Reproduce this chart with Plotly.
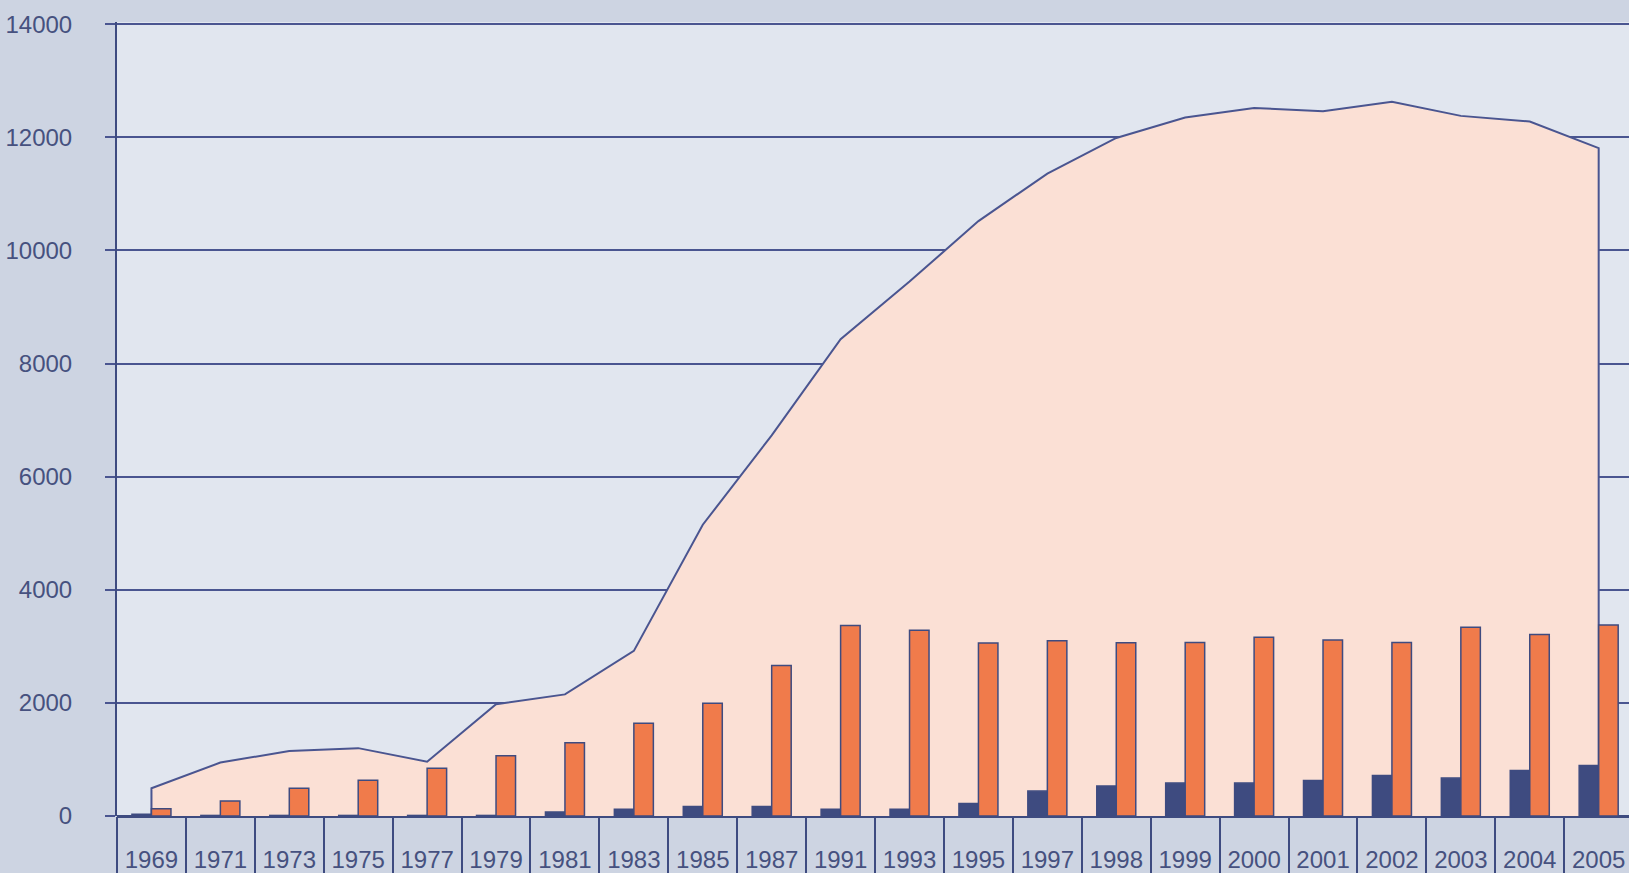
import plotly.graph_objects as go

years = ["1969", "1971", "1973", "1975", "1977", "1979", "1981", "1983", "1985", "1987",
         "1991", "1993", "1995", "1997", "1998", "1999", "2000", "2001", "2002", "2003",
         "2004", "2005"]

area_total = [490, 945, 1150, 1200, 960, 1975, 2150, 2920, 5150, 6730,
              8430, 9450, 10520, 11360, 11990, 12350, 12520, 12460, 12630, 12380,
              12280, 11810]

orange_vals = [130, 265, 490, 630, 845, 1065, 1295, 1640, 1995, 2660,
               3370, 3285, 3060, 3100, 3065, 3070, 3160, 3112, 3070, 3338,
               3208, 3378]

navy_vals = [30, 10, 10, 10, 10, 10, 70, 120, 170, 170,
             120, 120, 220, 440, 530, 582, 582, 628, 716, 670,
             805, 892]

y_ticks = [0, 2000, 4000, 6000, 8000, 10000, 12000, 14000]
y_labels = ["0", "2000", "4000", "6000", "8000", "10000", "12000", "14000"]

NAVY = "#3e4b80"
LINE = "#4a5590"
ORANGE = "#f07b4b"
PEACH = "#fbe0d5"
OUTER = "#cdd4e2"
PLOTBG = "#e1e6ef"
TEXT = "#46517f"
FONT = "Liberation Sans, Arial, sans-serif"

idx = list(range(len(years)))
bounds = [i - 0.5 for i in idx]

fig = go.Figure()

# area (drawn on base axes so bars on overlay axes sit above it)
fig.add_trace(go.Scatter(
    x=[idx[0]] + idx + [idx[-1]],
    y=[0] + area_total + [0],
    mode="lines", fill="tozeroy", fillcolor=PEACH,
    line=dict(color=LINE, width=2),
    xaxis="x", yaxis="y", showlegend=False, hoverinfo="skip",
))

fig.add_trace(go.Bar(
    x=idx, y=navy_vals, marker=dict(color=NAVY, line=dict(color=NAVY, width=1.5)),
    xaxis="x2", yaxis="y2", showlegend=False,
))
fig.add_trace(go.Bar(
    x=idx, y=orange_vals, marker=dict(color=ORANGE, line=dict(color=NAVY, width=1.5)),
    xaxis="x2", yaxis="y2", showlegend=False,
))

xr = [-0.5, 21.44]
yr = [0, 14040]

fig.update_layout(
    width=1629, height=873,
    margin=dict(l=117, r=0, t=22, b=57),
    paper_bgcolor=OUTER, plot_bgcolor=PLOTBG,
    barmode="group", bargap=0.434, bargroupgap=0,
    font=dict(family=FONT, color=TEXT, size=24),
    xaxis=dict(
        range=xr, tickmode="array", tickvals=idx, ticktext=years,
        ticks="", showgrid=False, zeroline=False, showline=False,
        ticklabelstandoff=27, ticklabeloverflow="allow",
        tickfont=dict(family=FONT, size=24, color=TEXT),
        minor=dict(tickmode="array", tickvals=bounds, ticks="outside",
                   ticklen=60, tickwidth=1.5, tickcolor=NAVY, showgrid=False),
    ),
    yaxis=dict(
        range=yr, tickmode="array", tickvals=y_ticks, ticktext=y_labels,
        ticks="outside", ticklen=10, tickwidth=2, tickcolor=LINE,
        showgrid=True, gridcolor=LINE, gridwidth=2,
        zeroline=True, zerolinecolor=NAVY, zerolinewidth=2.5,
        showline=True, linecolor=NAVY, linewidth=2,
        ticklabelstandoff=28, ticklabeloverflow="allow",
        tickfont=dict(family=FONT, size=24, color=TEXT),
    ),
    xaxis2=dict(range=xr, overlaying="x", visible=False),
    yaxis2=dict(range=yr, overlaying="y", visible=False),
)

fig.write_html(
    "out.html",
    config={"displayModeBar": False},
    post_script="document.body.style.margin='0';document.body.style.overflow='hidden';",
)
